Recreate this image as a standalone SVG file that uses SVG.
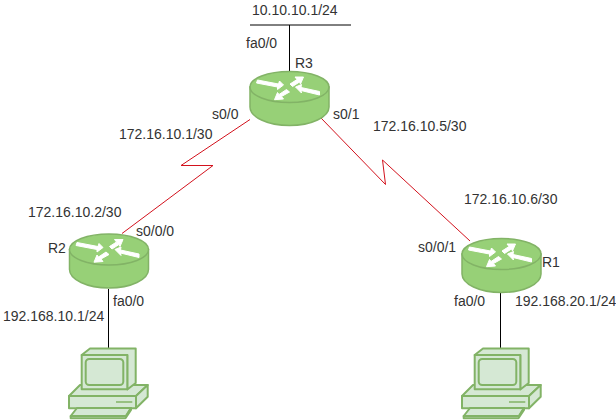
<svg xmlns="http://www.w3.org/2000/svg" xmlns:xlink="http://www.w3.org/1999/xlink" width="616" height="420" viewBox="0 0 616 420">
<style>
text{font-family:"Liberation Sans",Arial,sans-serif;font-size:14px;fill:#333}
.w{stroke:#000;stroke-width:1;fill:none}
.r{stroke:#d3121d;stroke-width:1;fill:none}
.body{fill:#97d077;stroke:#82b366;stroke-width:1.5}
.top{fill:#97d077;stroke:#82b366;stroke-width:1.5}
.ar{fill:#fff;stroke:#fff;stroke-width:1}
.pc{fill:#d5e8d4;stroke:#82b366;stroke-width:2;stroke-linejoin:round}
</style>
<defs>
<g id="router">
<path class="body" d="M-39.500 0V20C-39.500 30 -22 38.500 0 38.500S39.500 30 39.500 20V0Z"/>
<ellipse class="top" cx="0" cy="0" rx="39.500" ry="15.500"/>
<path class="ar" d="M-32 -7L-33 -4L-12 0L-12 2.500L-6 -2L-10 -6L-11 -3Z"/>
<path class="ar" d="M14 -10L5.500 -10L7.500 -7.500L0.500 -3L3 -0.500L10 -5L11 -3Z"/>
<path class="ar" d="M-15 12.700L-6 12L-8 9.500L0 5L-3 2.500L-10.500 7.500L-12 5.500Z"/>
<path class="ar" d="M6 0L12 -2.500L11.500 0.500L30 4.500L30 8L11.500 3.500L12 6Z"/>
</g>
<g id="pc">
<path class="pc" d="M19 66L30 55H97.700L86 66Z"/>
<path class="pc" d="M86 66L97.700 55V66.700L86 78.300Z"/>
<rect class="pc" x="19" y="66" width="67" height="12.300"/>
<path class="pc" d="M27 78L20.700 86H76L81 78Z"/>
<path class="pc" d="M20.700 86V88.300H75.500L81 80V78L76 86Z"/>
<path fill="none" stroke="#82b366" stroke-width="1.500" d="M66 72H82.300"/>
<path class="pc" d="M31.700 25L40 18.500H85.700V53L77.300 59.500V25Z"/>
<rect class="pc" x="31.700" y="25" width="45.600" height="34.300"/>
<rect class="pc" x="35.700" y="29" width="37.600" height="26" rx="3.500"/>
</g>
</defs>
<g id="connectors">
<path class="w" d="M250 25H351M289.500 25V72"/>
<path class="w" d="M108.500 289V348"/>
<path class="w" d="M500.500 293V348"/>
<path class="r" d="M250 119.500L181 165.500H213L122 233.500"/>
<path class="r" d="M321 118L385.500 184.500L382.500 160L470 241"/>
</g>
<g id="R3"><use xlink:href="#router" x="289.500" y="87"/><text x="295" y="68">R3</text></g>
<g id="R2"><use xlink:href="#router" x="109" y="249.500"/><text x="48" y="253">R2</text></g>
<g id="R1"><use xlink:href="#router" x="501.500" y="254"/><text x="542" y="267">R1</text></g>
<g id="PC1"><use xlink:href="#pc" x="50" y="330"/></g>
<g id="PC2"><use xlink:href="#pc" x="443" y="330"/></g>
<g id="labels">
<text x="252" y="15">10.10.10.1/24</text>
<text x="246" y="48">fa0/0</text>
<text x="212" y="119">s0/0</text>
<text x="333" y="119">s0/1</text>
<text x="119" y="139">172.16.10.1/30</text>
<text x="373" y="131">172.16.10.5/30</text>
<text x="464" y="204">172.16.10.6/30</text>
<text x="28" y="217">172.16.10.2/30</text>
<text x="136" y="236">s0/0/0</text>
<text x="418" y="252">s0/0/1</text>
<text x="113" y="306">fa0/0</text>
<text x="454" y="306">fa0/0</text>
<text x="3" y="321">192.168.10.1/24</text>
<text x="515" y="306">192.168.20.1/24</text>
</g>
</svg>
